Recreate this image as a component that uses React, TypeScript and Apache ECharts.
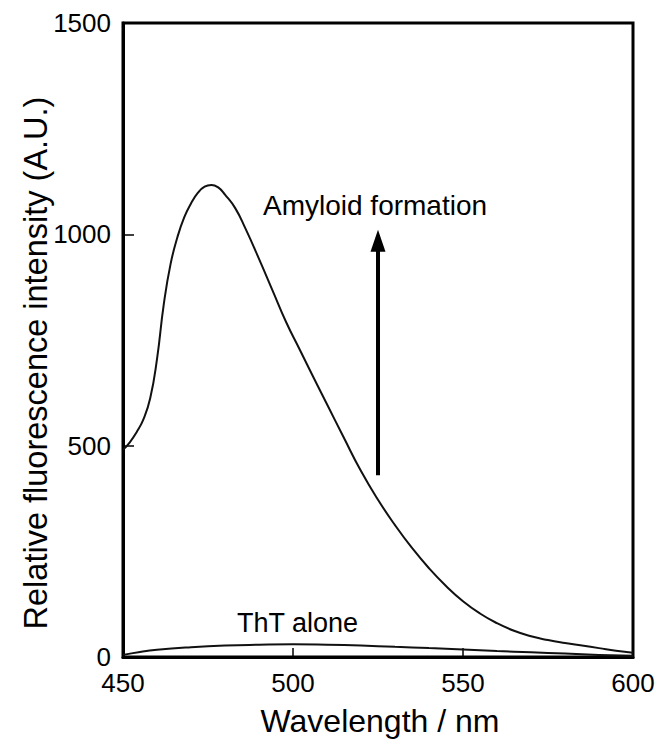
import React, { useEffect, useRef } from "react";
import * as echarts from "echarts";

const wavelengths = [450, 452, 454, 456, 458, 460, 462, 464, 466, 468, 470, 472, 474, 476, 478, 480, 483, 486, 490, 494, 498, 502, 506, 510, 515, 520, 525, 530, 535, 540, 545, 550, 555, 560, 565, 570, 575, 580, 585, 590, 595, 600];
const amyloidValues = [490, 508, 532, 562, 612, 705, 835, 930, 993, 1040, 1073, 1098, 1113, 1117, 1111, 1094, 1062, 1014, 942, 867, 792, 727, 662, 598, 518, 440, 372, 312, 258, 210, 168, 132, 103, 80, 62, 49, 40, 33, 27, 21, 15, 10];

const thtWavelengths = [450, 455, 460, 470, 480, 490, 500, 510, 520, 530, 540, 550, 560, 570, 580, 590, 600];
const thtValues = [5, 12, 17, 23, 27, 29, 30, 29, 27, 24, 21, 18, 14, 11, 8, 5, 3];

const xTicks = [450, 500, 550, 600];
const yTicks = [0, 500, 1000, 1500];

const arrowWavelength = 525;
const arrowFrom = 430;
const arrowTo = 985;

const FONT = "'Liberation Sans', Arial, Helvetica, sans-serif";

export default function App() {
  const ref = useRef<HTMLDivElement>(null);
  useEffect(() => {
    if (!ref.current) return;
    const chart = echarts.init(ref.current, null, { renderer: "svg" });
    const amyloid = wavelengths.map((w, i) => [w, amyloidValues[i]]);
    const tht = thtWavelengths.map((w, i) => [w, thtValues[i]]);
    chart.setOption({
      animation: false,
      backgroundColor: "#fff",
      grid: {
        left: 123,
        top: 23,
        right: 33,
        bottom: 90,
        show: true,
        borderColor: "#000",
        borderWidth: 3,
        backgroundColor: "transparent",
        outerBoundsMode: "none",
      },
      xAxis: {
        type: "value",
        min: xTicks[0],
        max: xTicks[xTicks.length - 1],
        interval: 50,
        axisLine: { show: true, lineStyle: { color: "#000", width: 3 } },
        axisTick: { show: true, inside: true, length: 9, lineStyle: { color: "#000", width: 1.5 } },
        splitLine: { show: false },
        axisLabel: { color: "#000", fontSize: 26, lineHeight: 22, fontFamily: FONT, margin: 15, formatter: (v: number) => String(v) },
      },
      yAxis: {
        type: "value",
        min: yTicks[0],
        max: yTicks[yTicks.length - 1],
        interval: 500,
        axisLine: { show: true, lineStyle: { color: "#000", width: 3 } },
        axisTick: { show: true, inside: true, length: 11, lineStyle: { color: "#000", width: 1.5 } },
        splitLine: { show: false },
        axisLabel: { color: "#000", fontSize: 26, lineHeight: 22, fontFamily: FONT, margin: 12, formatter: (v: number) => String(v) },
      },
      series: [
        {
          type: "line",
          data: amyloid,
          smooth: 0.5,
          showSymbol: false,
          lineStyle: { color: "#111", width: 2 },
          markLine: {
            silent: true,
            symbol: ["none", "triangle"],
            symbolSize: [15, 22],
            label: { show: false },
            lineStyle: { color: "#000", width: 4, type: "solid" },
            data: [[{ coord: [arrowWavelength, arrowFrom] }, { coord: [arrowWavelength, arrowTo] }]],
          },
        },
        {
          type: "line",
          data: tht,
          smooth: 0.5,
          showSymbol: false,
          lineStyle: { color: "#111", width: 2 },
        },
      ],
      graphic: [
        {
          type: "text",
          x: 36,
          y: 363,
          rotation: Math.PI / 2,
          style: {
            text: "Relative fluorescence intensity (A.U.)",
            font: `32.5px ${FONT}`,
            fill: "#000",
            textAlign: "center",
            textVerticalAlign: "middle",
          },
        },
        {
          type: "text",
          x: 380,
          y: 721,
          style: {
            text: "Wavelength / nm",
            font: `32px ${FONT}`,
            fill: "#000",
            textAlign: "center",
            textVerticalAlign: "middle",
          },
        },
        {
          type: "text",
          x: 263,
          y: 205,
          style: {
            text: "Amyloid formation",
            font: `28px ${FONT}`,
            fill: "#000",
            textAlign: "left",
            textVerticalAlign: "middle",
          },
        },
        {
          type: "text",
          x: 358,
          y: 623,
          style: {
            text: "ThT alone",
            font: `27px ${FONT}`,
            fill: "#000",
            textAlign: "right",
            textVerticalAlign: "middle",
          },
        },
      ],
    });
    return () => chart.dispose();
  }, []);
  return <div ref={ref} style={{ width: 666, height: 747, position: "absolute", left: 0, top: 0 }} />;
}
